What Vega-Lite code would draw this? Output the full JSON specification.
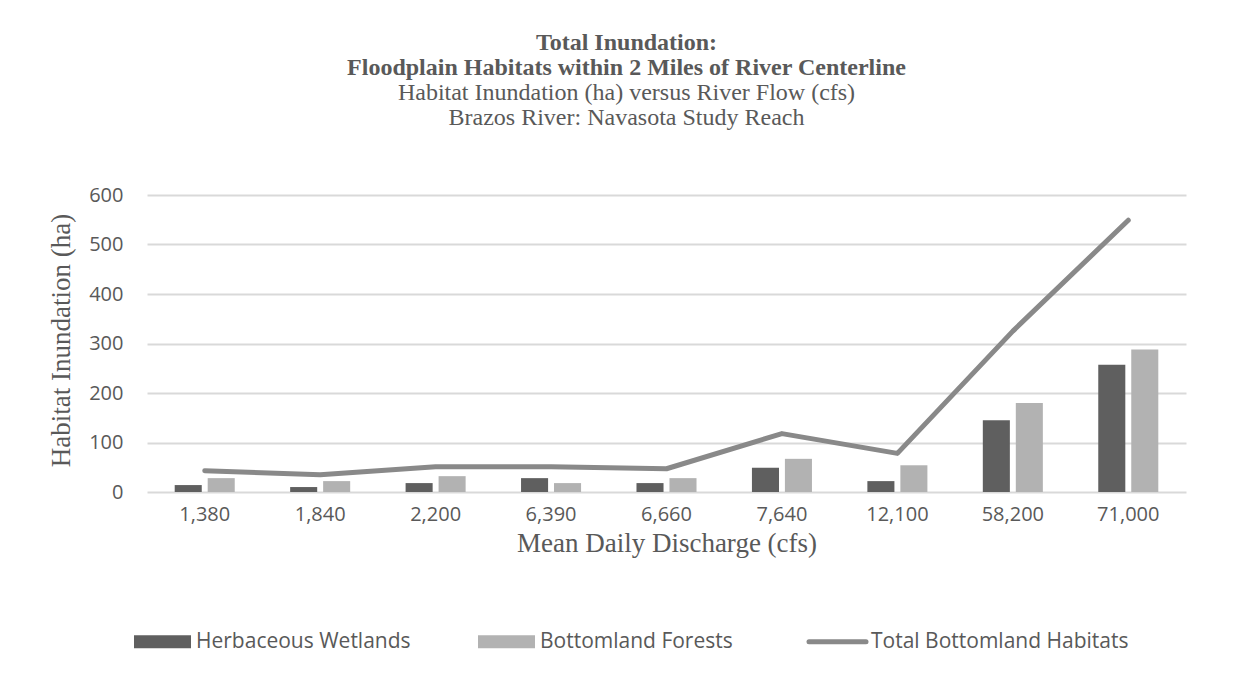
{
  "$schema": "https://vega.github.io/schema/vega-lite/v6.json",
  "width": 1039,
  "height": 297,
  "autosize": {"type": "none"},
  "padding": {"left": 147, "top": 195, "right": 65, "bottom": 187},
  "background": "white",
  "title": {
    "text": ["Total Inundation:", "Floodplain Habitats within 2 Miles of River Centerline"],
    "subtitle": ["Habitat Inundation (ha) versus River Flow (cfs)", "Brazos River: Navasota Study Reach"],
    "font": "Liberation Serif",
    "fontSize": 24,
    "fontWeight": "bold",
    "color": "#595959",
    "subtitleFont": "Liberation Serif",
    "subtitleFontSize": 24,
    "subtitleColor": "#595959",
    "lineHeight": 25,
    "subtitleLineHeight": 25,
    "subtitlePadding": 1,
    "anchor": "middle",
    "offset": 55,
    "dx": -40
  },
  "datasets": {
    "bars": [
      {"discharge": "1,380", "series": "Herbaceous Wetlands", "ha": 14},
      {"discharge": "1,840", "series": "Herbaceous Wetlands", "ha": 10},
      {"discharge": "2,200", "series": "Herbaceous Wetlands", "ha": 18},
      {"discharge": "6,390", "series": "Herbaceous Wetlands", "ha": 28},
      {"discharge": "6,660", "series": "Herbaceous Wetlands", "ha": 18},
      {"discharge": "7,640", "series": "Herbaceous Wetlands", "ha": 49},
      {"discharge": "12,100", "series": "Herbaceous Wetlands", "ha": 22},
      {"discharge": "58,200", "series": "Herbaceous Wetlands", "ha": 145},
      {"discharge": "71,000", "series": "Herbaceous Wetlands", "ha": 257},
      {"discharge": "1,380", "series": "Bottomland Forests", "ha": 28},
      {"discharge": "1,840", "series": "Bottomland Forests", "ha": 22},
      {"discharge": "2,200", "series": "Bottomland Forests", "ha": 32},
      {"discharge": "6,390", "series": "Bottomland Forests", "ha": 18},
      {"discharge": "6,660", "series": "Bottomland Forests", "ha": 28},
      {"discharge": "7,640", "series": "Bottomland Forests", "ha": 67},
      {"discharge": "12,100", "series": "Bottomland Forests", "ha": 54},
      {"discharge": "58,200", "series": "Bottomland Forests", "ha": 180},
      {"discharge": "71,000", "series": "Bottomland Forests", "ha": 288}
    ],
    "total": [
      {"discharge": "1,380", "series": "Total Bottomland Habitats", "ha": 43},
      {"discharge": "1,840", "series": "Total Bottomland Habitats", "ha": 35},
      {"discharge": "2,200", "series": "Total Bottomland Habitats", "ha": 51},
      {"discharge": "6,390", "series": "Total Bottomland Habitats", "ha": 51},
      {"discharge": "6,660", "series": "Total Bottomland Habitats", "ha": 47},
      {"discharge": "7,640", "series": "Total Bottomland Habitats", "ha": 118},
      {"discharge": "12,100", "series": "Total Bottomland Habitats", "ha": 78},
      {"discharge": "58,200", "series": "Total Bottomland Habitats", "ha": 325},
      {"discharge": "71,000", "series": "Total Bottomland Habitats", "ha": 549}
    ]
  },
  "encoding": {
    "x": {
      "field": "discharge",
      "type": "nominal",
      "sort": ["1,380", "1,840", "2,200", "6,390", "6,660", "7,640", "12,100", "58,200", "71,000"],
      "scale": {"paddingInner": 0.48, "paddingOuter": 0.24},
      "axis": {
        "title": "Mean Daily Discharge (cfs)",
        "labelAngle": 0,
        "labelFont": "Open Sans",
        "labelFontSize": 20,
        "labelColor": "#595959",
        "labelPadding": 12,
        "domain": false,
        "ticks": false,
        "titleFont": "Liberation Serif",
        "titleFontSize": 27,
        "titleFontWeight": "normal",
        "titleColor": "#595959",
        "titlePadding": 6
      }
    },
    "y": {
      "field": "ha",
      "type": "quantitative",
      "scale": {"domain": [0, 600], "nice": false},
      "axis": {
        "title": "Habitat Inundation (ha)",
        "values": [0, 100, 200, 300, 400, 500, 600],
        "labelFont": "Open Sans",
        "labelFontSize": 20,
        "labelColor": "#595959",
        "labelPadding": 24,
        "domain": false,
        "ticks": false,
        "gridColor": "#d9d9d9",
        "gridWidth": 2,
        "titleFont": "Liberation Serif",
        "titleFontSize": 27,
        "titleFontWeight": "normal",
        "titleColor": "#595959",
        "titleX": -86,
        "titleY": 145,
        "titleAngle": -90,
        "titleAlign": "center",
        "titleBaseline": "middle"
      }
    },
    "color": {
      "field": "series",
      "type": "nominal",
      "scale": {
        "domain": ["Herbaceous Wetlands", "Bottomland Forests", "Total Bottomland Habitats"],
        "range": ["#5f5f5f", "#b2b2b2", "#898989"]
      },
      "legend": {
        "title": null,
        "orient": "none",
        "direction": "horizontal",
        "legendX": -14,
        "legendY": 436,
        "symbolSize": 3249,
        "symbolType": "M-1,-0.23H1V0.23H-1Z",
        "symbolOffset": 19,
        "labelFont": "Open Sans",
        "labelFontSize": 21,
        "labelColor": "#595959",
        "labelLimit": 500,
        "labelOffset": 23,
        "columnPadding": 66,
        "symbolStrokeWidth": 0,
        "encode": {
          "symbols": {
            "update": {
              "shape": {"signal": "datum.value === 'Total Bottomland Habitats' ? 'stroke' : 'M-1,-0.23H1V0.23H-1Z'"},
              "fill": {"signal": "datum.value === 'Total Bottomland Habitats' ? 'transparent' : scale('color', datum.value)"},
              "stroke": {"signal": "scale('color', datum.value)"},
              "strokeWidth": {"signal": "datum.value === 'Total Bottomland Habitats' ? 5 : 0"},
              "strokeCap": {"value": "round"},
              "opacity": {"value": 1}
            }
          }
        }
      }
    }
  },
  "layer": [
    {
      "data": {"name": "bars"},
      "mark": {"type": "bar"},
      "encoding": {
        "xOffset": {
          "field": "series",
          "type": "nominal",
          "sort": ["Herbaceous Wetlands", "Bottomland Forests"],
          "scale": {"paddingInner": 0.18, "paddingOuter": 0}
        }
      }
    },
    {
      "data": {"name": "total"},
      "mark": {"type": "line", "strokeWidth": 5, "strokeCap": "round", "strokeJoin": "round"},
      "encoding": {}
    }
  ],
  "config": {
    "view": {"stroke": null}
  }
}
